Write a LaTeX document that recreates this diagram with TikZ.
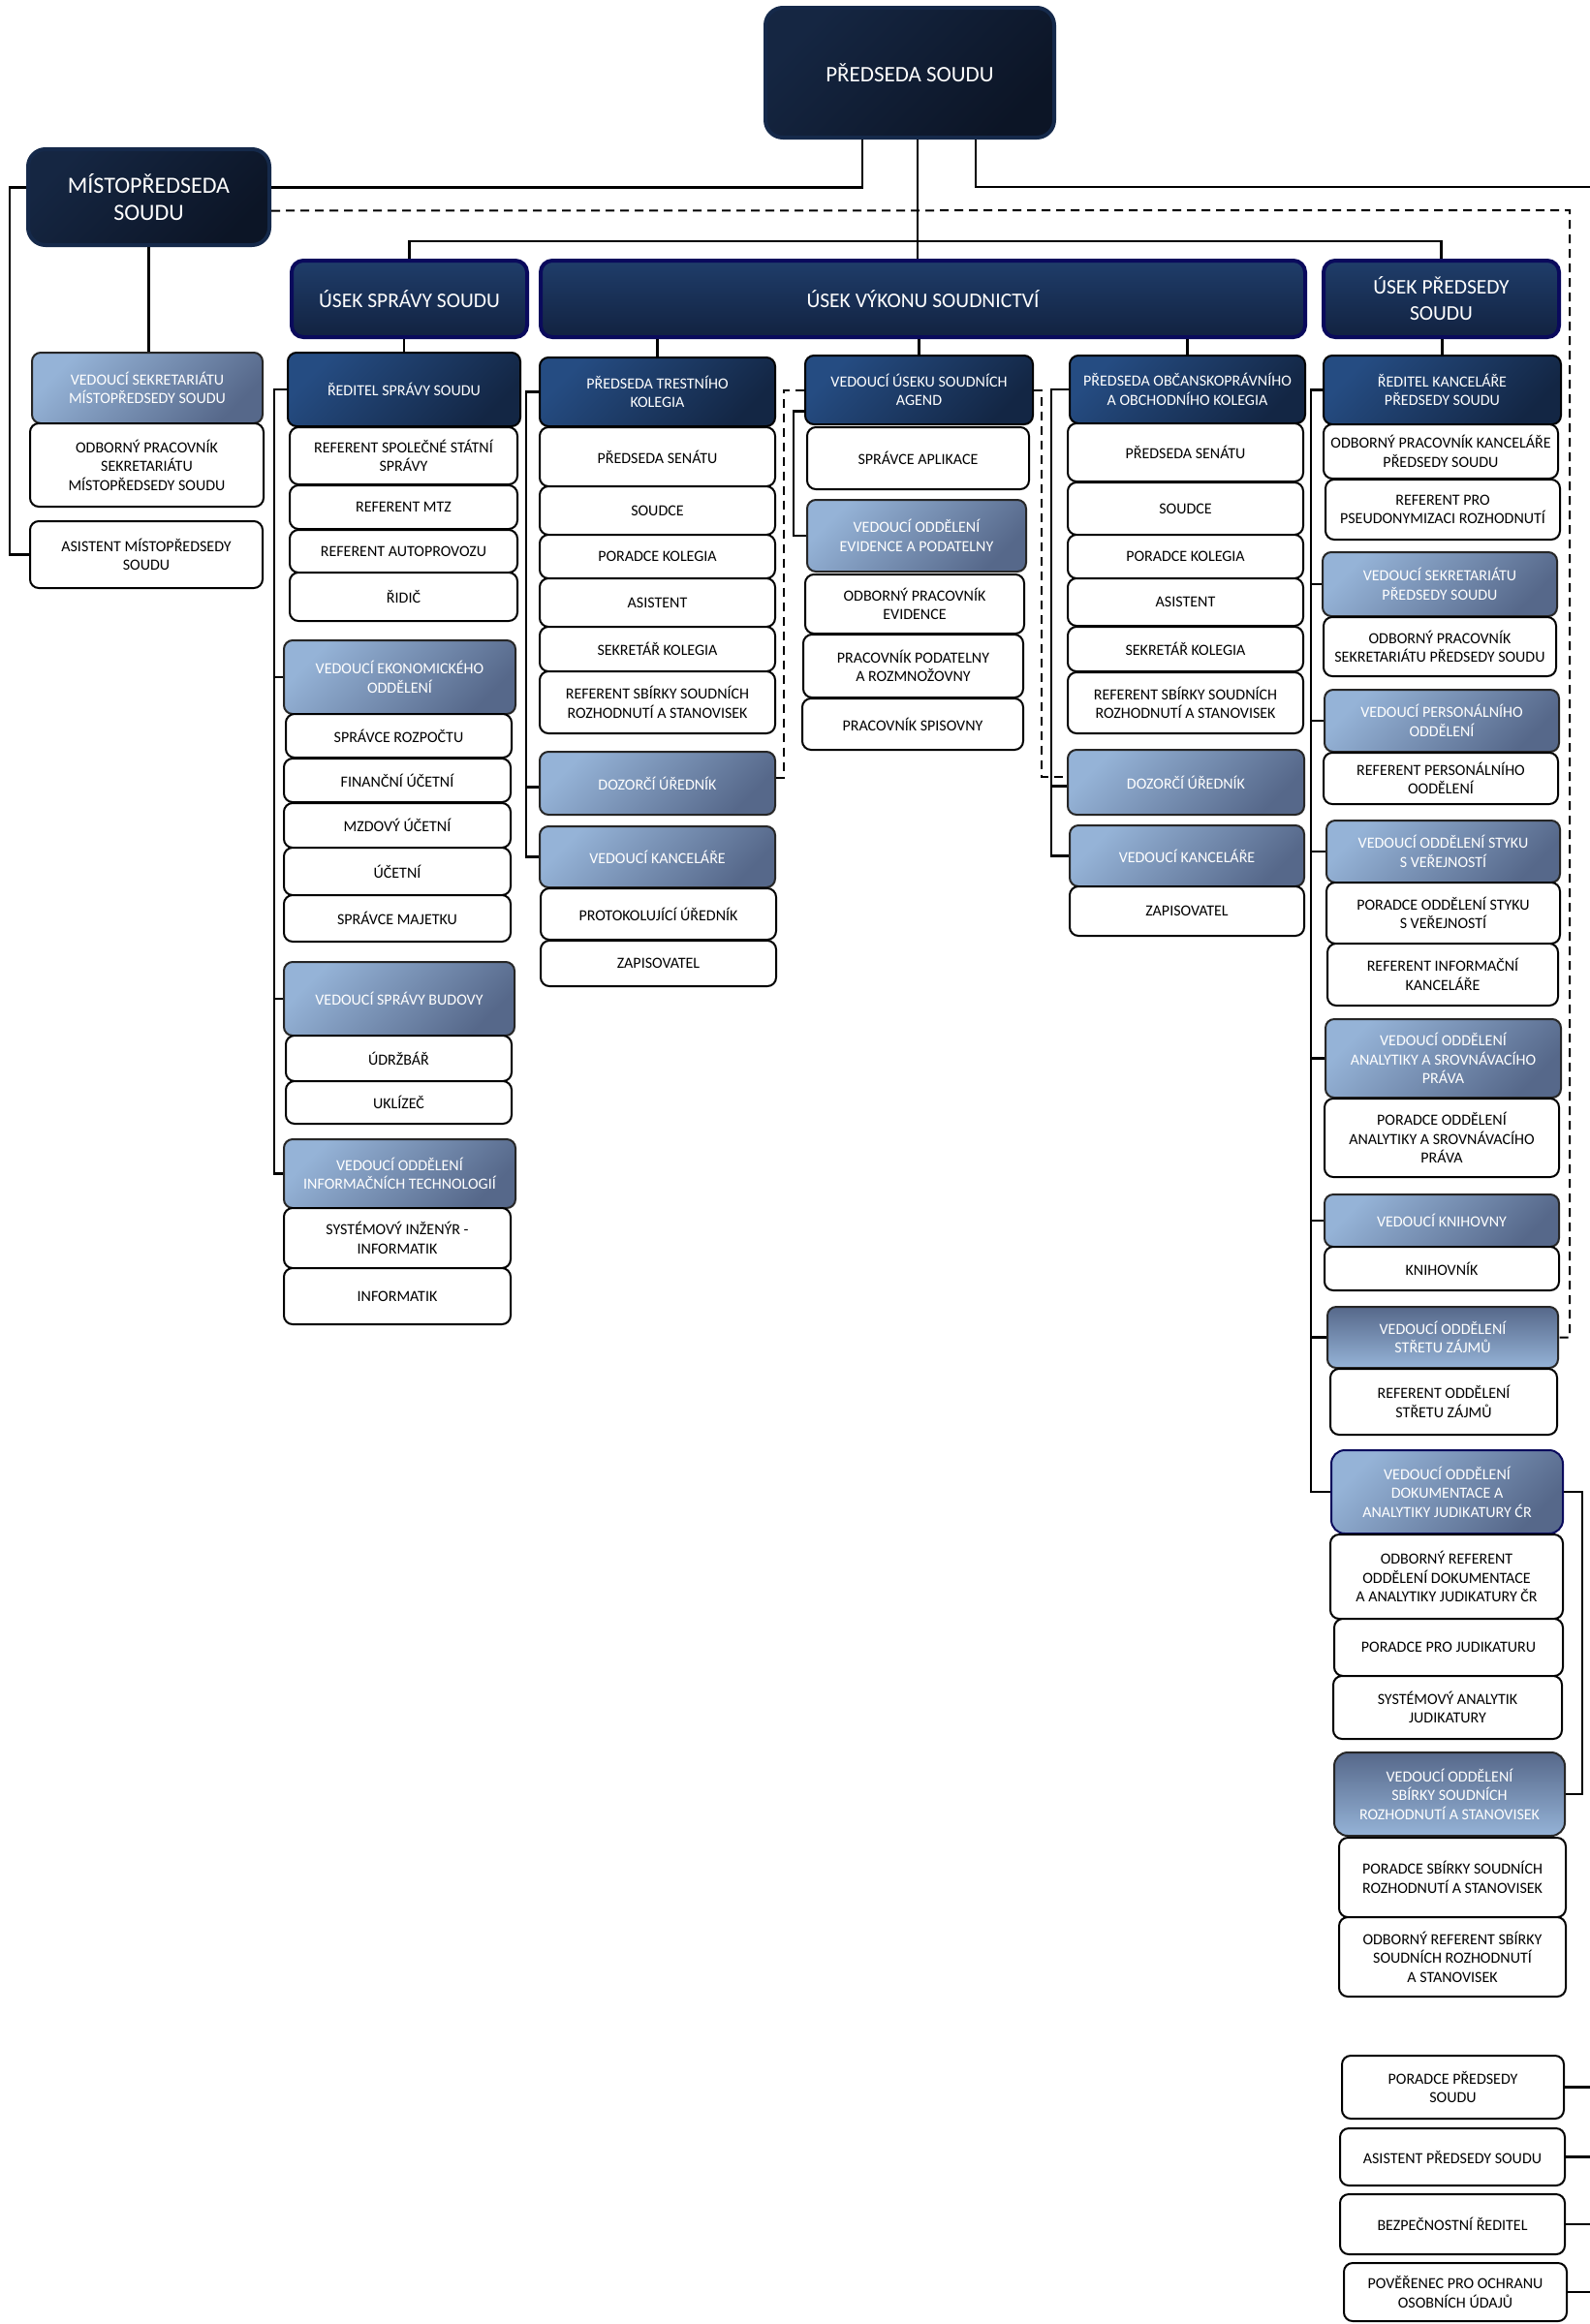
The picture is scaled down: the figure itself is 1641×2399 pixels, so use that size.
\documentclass[tikz,border=0pt]{standalone}
\usepackage{fontspec}
\setmainfont{Carlito}
\definecolor{topA}{HTML}{152642}
\definecolor{topB}{HTML}{0C1526}
\definecolor{topBd}{HTML}{15294A}
\definecolor{usekA}{HTML}{1F3D6A}
\definecolor{usekB}{HTML}{122240}
\definecolor{navyB}{HTML}{0A0A5C}
\definecolor{midA}{HTML}{254C82}
\definecolor{midB}{HTML}{132644}
\definecolor{lightA}{HTML}{95B3D7}
\definecolor{lightB}{HTML}{56688A}
% box from corner (x1,y1) to corner (x2,y2)
\newcommand{\orgbox}[7]{\node[#1, minimum width={(#5)-(#3)}, minimum height={(#6)-(#4)}] (#2) at ({((#3)+(#5))/2},{((#4)+(#6))/2}) {#7};}
\tikzset{
        box/.style={rounded corners=9pt, line width=2pt, inner sep=2pt, align=center, font=\fontsize{16}{19.5}\selectfont},
        wbox/.style={box, draw=black, fill=white, text=black},
        lbox/.style={box, draw=black!85, top color=lightA, bottom color=lightB, shading angle=45, text=white},
        lboxr/.style={lbox, top color=lightB, bottom color=lightA},
        mbox/.style={box, draw=black, top color=midA, bottom color=midB, shading angle=45, text=white},
        tbox/.style={box, rounded corners=18pt, line width=4pt, draw=topBd, top color=topA, bottom color=topB, shading angle=45, text=white, font=\fontsize{23}{28}\selectfont},
        ubox/.style={tbox, rounded corners=12pt, draw=navyB, top color=usekA, bottom color=usekB, font=\fontsize{21.5}{27}\selectfont},
        conn/.style={line width=2.4pt},
        dline/.style={line width=2pt, dash pattern=on 9pt off 6pt},
}
\begin{document}
\begin{tikzpicture}[x=1pt,y=-1pt]
        \useasboundingbox (0,0) rectangle (1641,2399);
        % heads of the court
        \orgbox{tbox}{ps}{790}{8}{1088}{142}{PŘEDSEDA SOUDU}
        \orgbox{tbox,font=\fontsize{24}{28}\selectfont}{mps}{29}{154}{278}{253}{MÍSTOPŘEDSEDA\\SOUDU}
        \orgbox{ubox}{uss}{301}{269}{544}{348}{ÚSEK SPRÁVY SOUDU}
        \orgbox{ubox}{uvs}{558}{269}{1347}{348}{ÚSEK VÝKONU SOUDNICTVÍ}
        \orgbox{ubox}{ups}{1366}{269}{1609}{348}{ÚSEK PŘEDSEDY\\SOUDU}
        % deputy
        \orgbox{lbox}{vsm}{33}{364}{271}{437}{VEDOUCÍ SEKRETARIÁTU\\MÍSTOPŘEDSEDY SOUDU}
        \orgbox{wbox}{opsm}{31}{437}{272}{523}{ODBORNÝ PRACOVNÍK\\SEKRETARIÁTU\\MÍSTOPŘEDSEDY SOUDU}
        \orgbox{wbox}{am}{31}{538}{271}{607}{ASISTENT MÍSTOPŘEDSEDY\\SOUDU}
        % administration
        \orgbox{mbox}{rs}{297}{364}{537}{440}{ŘEDITEL SPRÁVY SOUDU}
        \orgbox{wbox}{rsss}{299}{441}{534}{500}{REFERENT SPOLEČNÉ STÁTNÍ\\SPRÁVY}
        \orgbox{wbox}{rmtz}{299}{501}{534}{546}{REFERENT MTZ}
        \orgbox{wbox}{rap}{299}{547}{534}{591}{REFERENT AUTOPROVOZU}
        \orgbox{wbox}{rid}{299}{591}{534}{641}{ŘIDIČ}
        \orgbox{lbox}{veo}{293}{661}{532}{737}{VEDOUCÍ EKONOMICKÉHO\\ODDĚLENÍ}
        \orgbox{wbox}{sr}{295}{737}{528}{782}{SPRÁVCE ROZPOČTU}
        \orgbox{wbox}{fu}{293}{783}{527}{828}{FINANČNÍ ÚČETNÍ}
        \orgbox{wbox}{mu}{293}{829}{527}{875}{MZDOVÝ ÚČETNÍ}
        \orgbox{wbox}{uc}{293}{875}{527}{924}{ÚČETNÍ}
        \orgbox{wbox}{sm}{293}{924}{527}{972}{SPRÁVCE MAJETKU}
        \orgbox{lbox}{vsb}{293}{993}{531}{1069}{VEDOUCÍ SPRÁVY BUDOVY}
        \orgbox{wbox}{udr}{295}{1069}{528}{1116}{ÚDRŽBÁŘ}
        \orgbox{wbox}{ukl}{295}{1116}{528}{1160}{UKLÍZEČ}
        \orgbox{lbox}{voit}{293}{1176}{532}{1247}{VEDOUCÍ ODDĚLENÍ\\INFORMAČNÍCH TECHNOLOGIÍ}
        \orgbox{wbox}{sii}{293}{1247}{527}{1309}{SYSTÉMOVÝ INŽENÝR -\\INFORMATIK}
        \orgbox{wbox}{inf}{293}{1309}{527}{1367}{INFORMATIK}
        % criminal collegium
        \orgbox{mbox}{ptk}{557}{369}{800}{440}{PŘEDSEDA TRESTNÍHO\\KOLEGIA}
        \orgbox{wbox}{tps}{557}{441}{800}{502}{PŘEDSEDA SENÁTU}
        \orgbox{wbox}{tsd}{557}{502}{800}{552}{SOUDCE}
        \orgbox{wbox}{tpk}{557}{552}{800}{597}{PORADCE KOLEGIA}
        \orgbox{wbox}{tas}{557}{597}{800}{647}{ASISTENT}
        \orgbox{wbox}{tsk}{557}{647}{800}{693}{SEKRETÁŘ KOLEGIA}
        \orgbox{wbox}{trs}{557}{693}{800}{757}{REFERENT SBÍRKY SOUDNÍCH\\ROZHODNUTÍ A STANOVISEK}
        \orgbox{lbox}{tdu}{557}{776}{800}{841}{DOZORČÍ ÚŘEDNÍK}
        \orgbox{lbox}{tvk}{557}{853}{800}{916}{VEDOUCÍ KANCELÁŘE}
        \orgbox{wbox}{tpu}{558}{917}{801}{970}{PROTOKOLUJÍCÍ ÚŘEDNÍK}
        \orgbox{wbox}{tzap}{558}{971}{801}{1018}{ZAPISOVATEL}
        % court agenda
        \orgbox{mbox}{vusa}{831}{367}{1066}{438}{VEDOUCÍ ÚSEKU SOUDNÍCH\\AGEND}
        \orgbox{wbox}{spa}{833}{441}{1062}{505}{SPRÁVCE APLIKACE}
        \orgbox{lbox}{voep}{833}{516}{1059}{590}{VEDOUCÍ ODDĚLENÍ\\EVIDENCE A PODATELNY}
        \orgbox{wbox}{ope}{831}{593}{1057}{654}{ODBORNÝ PRACOVNÍK\\EVIDENCE}
        \orgbox{wbox}{ppr}{829}{655}{1056}{720}{PRACOVNÍK PODATELNY\\A ROZMNOŽOVNY}
        \orgbox{wbox}{psp}{828}{721}{1056}{774}{PRACOVNÍK SPISOVNY}
        % civil collegium
        \orgbox{mbox}{pok}{1104}{367}{1347}{437}{PŘEDSEDA OBČANSKOPRÁVNÍHO\\A OBCHODNÍHO KOLEGIA}
        \orgbox{wbox}{ops}{1102}{437}{1345}{497}{PŘEDSEDA SENÁTU}
        \orgbox{wbox}{osd}{1102}{498}{1345}{552}{SOUDCE}
        \orgbox{wbox}{opk}{1102}{552}{1345}{597}{PORADCE KOLEGIA}
        \orgbox{wbox}{oas}{1102}{597}{1345}{646}{ASISTENT}
        \orgbox{wbox}{osk}{1102}{647}{1345}{693}{SEKRETÁŘ KOLEGIA}
        \orgbox{wbox}{ors}{1102}{694}{1345}{757}{REFERENT SBÍRKY SOUDNÍCH\\ROZHODNUTÍ A STANOVISEK}
        \orgbox{lbox}{odu}{1102}{774}{1346}{841}{DOZORČÍ ÚŘEDNÍK}
        \orgbox{lbox}{ovk}{1104}{852}{1346}{915}{VEDOUCÍ KANCELÁŘE}
        \orgbox{wbox}{ozap}{1104}{915}{1346}{966}{ZAPISOVATEL}
        % office of the president
        \orgbox{mbox}{rkp}{1366}{367}{1611}{438}{ŘEDITEL KANCELÁŘE\\PŘEDSEDY SOUDU}
        \orgbox{wbox}{opkp}{1366}{438}{1608}{494}{ODBORNÝ PRACOVNÍK KANCELÁŘE\\PŘEDSEDY SOUDU}
        \orgbox{wbox}{rpr}{1368}{495}{1610}{557}{REFERENT PRO\\PSEUDONYMIZACI ROZHODNUTÍ}
        \orgbox{lbox}{vsp}{1365}{570}{1607}{636}{VEDOUCÍ SEKRETARIÁTU\\PŘEDSEDY SOUDU}
        \orgbox{wbox}{opsp}{1366}{637}{1606}{698}{ODBORNÝ PRACOVNÍK\\SEKRETARIÁTU PŘEDSEDY SOUDU}
        \orgbox{lbox}{vpo}{1367}{712}{1609}{776}{VEDOUCÍ PERSONÁLNÍHO\\ODDĚLENÍ}
        \orgbox{wbox}{rpo}{1366}{777}{1608}{830}{REFERENT PERSONÁLNÍHO\\OODĚLENÍ}
        \orgbox{lbox}{vosv}{1369}{847}{1610}{911}{VEDOUCÍ ODDĚLENÍ STYKU\\S VEŘEJNOSTÍ}
        \orgbox{wbox}{posv}{1369}{911}{1610}{974}{PORADCE ODDĚLENÍ STYKU\\S VEŘEJNOSTÍ}
        \orgbox{wbox}{rik}{1370}{974}{1608}{1038}{REFERENT INFORMAČNÍ\\KANCELÁŘE}
        \orgbox{lbox}{voa}{1368}{1052}{1611}{1133}{VEDOUCÍ ODDĚLENÍ\\ANALYTIKY A SROVNÁVACÍHO\\PRÁVA}
        \orgbox{wbox}{poa}{1367}{1134}{1609}{1215}{PORADCE ODDĚLENÍ\\ANALYTIKY A SROVNÁVACÍHO\\PRÁVA}
        \orgbox{lbox}{vkn}{1367}{1233}{1609}{1287}{VEDOUCÍ KNIHOVNY}
        \orgbox{wbox}{kn}{1367}{1287}{1609}{1332}{KNIHOVNÍK}
        \orgbox{lboxr}{vosz}{1370}{1349}{1608}{1412}{VEDOUCÍ ODDĚLENÍ\\STŘETU ZÁJMŮ}
        \orgbox{wbox}{rosz}{1373}{1413}{1607}{1481}{REFERENT ODDĚLENÍ\\STŘETU ZÁJMŮ}
        \orgbox{lbox,draw=navyB,rounded corners=14pt}{vodj}{1374}{1497}{1613}{1583}{VEDOUCÍ ODDĚLENÍ\\DOKUMENTACE A\\ANALYTIKY JUDIKATURY ĆR}
        \orgbox{wbox}{ordj}{1373}{1584}{1613}{1671}{ODBORNÝ REFERENT\\ODDĚLENÍ DOKUMENTACE\\A ANALYTIKY JUDIKATURY ČR}
        \orgbox{wbox}{ppj}{1377}{1671}{1613}{1730}{PORADCE PRO JUDIKATURU}
        \orgbox{wbox}{saj}{1376}{1730}{1612}{1795}{SYSTÉMOVÝ ANALYTIK\\JUDIKATURY}
        \orgbox{lboxr,rounded corners=14pt}{vossr}{1377}{1809}{1615}{1895}{VEDOUCÍ ODDĚLENÍ\\SBÍRKY SOUDNÍCH\\ROZHODNUTÍ A STANOVISEK}
        \orgbox{wbox}{pssr}{1382}{1897}{1616}{1979}{PORADCE SBÍRKY SOUDNÍCH\\ROZHODNUTÍ A STANOVISEK}
        \orgbox{wbox}{orssr}{1382}{1979}{1616}{2061}{ODBORNÝ REFERENT SBÍRKY\\SOUDNÍCH ROZHODNUTÍ\\A STANOVISEK}
        % directly under the president
        \orgbox{wbox}{pps}{1385}{2122}{1614}{2187}{PORADCE PŘEDSEDY\\SOUDU}
        \orgbox{wbox}{aps}{1383}{2197}{1615}{2256}{ASISTENT PŘEDSEDY SOUDU}
        \orgbox{wbox}{br}{1383}{2265}{1615}{2327}{BEZPEČNOSTNÍ ŘEDITEL}
        \orgbox{wbox}{ppou}{1387}{2336}{1617}{2396}{POVĚŘENEC PRO OCHRANU\\OSOBNÍCH ÚDAJŮ}
        % free ends and bus points
        \coordinate (edgeR) at (1641,193);
        \coordinate (rE) at (1641,0);
        \coordinate (bus) at (947,249);
        \coordinate (dR) at (1620,217);
        % draw the connectors
        \draw[conn] ([xshift=-49]ps.south) |- ([yshift=10]mps.east);
        \draw[conn] ([xshift=68]ps.south) |- (edgeR);
        \draw[conn] (ps.south -| bus) -- (bus |- uvs.north);
        \draw[conn] (uss.north) |- (bus) -| (ups.north);
        \draw[conn] (mps.south) -- (mps.south |- vsm.north);
        \draw[conn] ([yshift=10]mps.west) -- ++(-17,0) |- (am.west);
        \draw[dline] ([yshift=-14]mps.east) -- (dR) |- (vosz.east);
        \draw[conn] (rs.north) -- (rs.north |- uss.south);
        \draw[conn] (ptk.north) -- (ptk.north |- uvs.south);
        \draw[conn] (vusa.north) -- (vusa.north |- uvs.south);
        \draw[conn] (pok.north) -- (pok.north |- uvs.south);
        \draw[conn] (rkp.north) -- (rkp.north |- ups.south);
        \foreach \n in {veo,vsb,voit}
                \draw[conn] (rs.west) -- ++(-13,0) |- (\n.west);
        \draw[conn] (ptk.west) -- ++(-13,0) |- ([yshift=-4]tdu.west);
        \draw[conn] (ptk.west) -- ++(-13,0) |- (tvk.west);
        \draw[conn] (pok.west) -- ++(-18,0) |- ([yshift=-4]odu.west);
        \draw[conn] (pok.west) -- ++(-18,0) |- (ovk.west);
        \draw[conn] ([yshift=-22]vusa.west) -- ++(-11,0) |- (voep.west);
        \draw[dline] (vusa.west) -- ++(-21,0) |- ([yshift=6]tdu.east);
        \draw[dline] (vusa.east) -- ++(8,0) |- ([yshift=6]odu.west);
        \foreach \n in {vsp,vpo,vosv,voa,vkn,vosz,vodj}
                \draw[conn] (rkp.west) -- ++(-12,0) |- (\n.west);
        \draw[conn] (vodj.east) -- ++(19,0) |- (vossr.east);
        \foreach \n in {pps,aps,br,ppou}
                \draw[conn] (\n.east) -- (\n.east -| rE);
\end{tikzpicture}
\end{document}
